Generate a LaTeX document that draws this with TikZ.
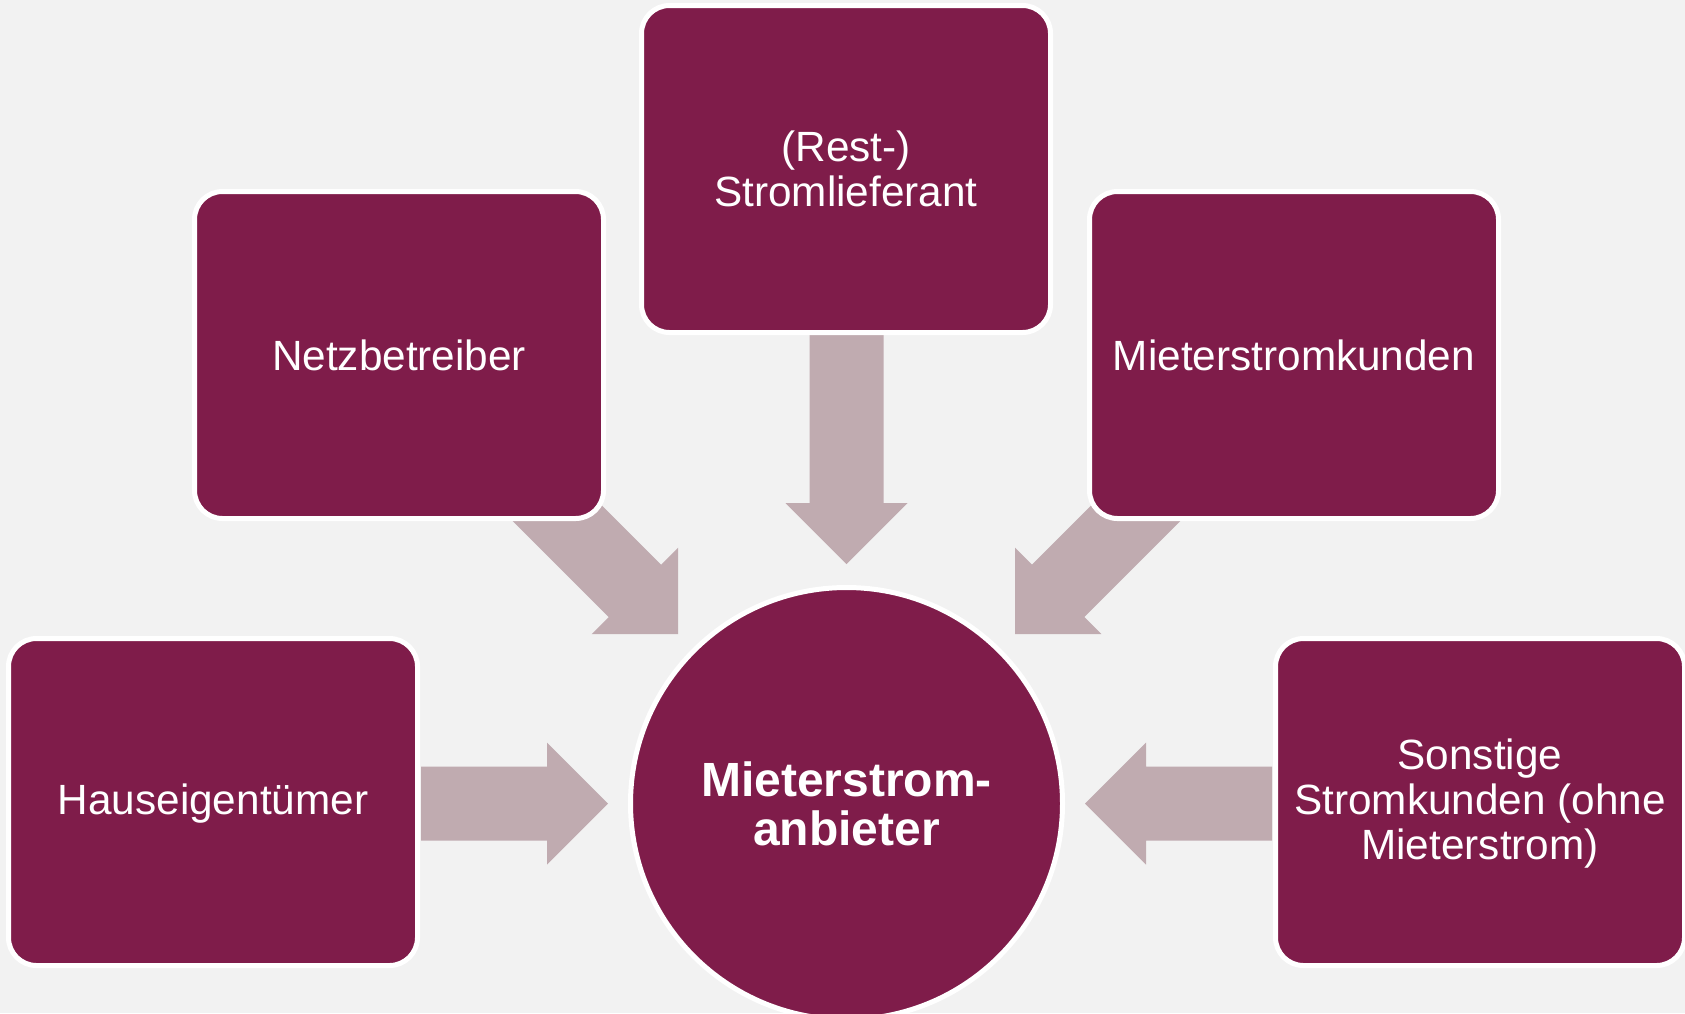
\documentclass[tikz,border=0pt]{standalone}
\usepackage{fontspec}
\setmainfont{Liberation Sans}
\definecolor{bgc}{HTML}{F2F2F2}
\definecolor{plum}{HTML}{7F1C4A}
\definecolor{arrc}{HTML}{C0ABB0}
\newcommand\capstrut{\rule[-0.084em]{0pt}{0.884em}}
\begin{document}
\begin{tikzpicture}[x=1pt,y=-1pt,
  box/.style={rectangle, rounded corners=28pt, fill=plum, draw=white, line width=5pt,
    minimum width=409pt, minimum height=327pt, inner sep=0pt, text=white, align=center,
    font=\fontsize{42.3}{45}\selectfont},
  hub/.style={circle, fill=plum, draw=white, line width=5pt, minimum size=432pt,
    inner sep=0pt, text=white, align=center, font=\fontsize{48}{49}\selectfont\bfseries},
  barrow/.pic={\fill[arrc] (0,0) -- (-61,61) -- (-61,37) -- (-#1,37) -- (-#1,-37)
    -- (-61,-37) -- (-61,-61) -- cycle;}
]
\useasboundingbox (0,0) rectangle (1685,1013);
\clip (0,0) rectangle (1685,1013);
\fill[bgc] (0,0) rectangle (1685,1013);

% block arrows (tips)
\coordinate (tipL) at (608,803.5);
\coordinate (tipR) at (1085,803.5);
\coordinate (tipT) at (846.5,564);
\coordinate (tipNW) at (678,634);
\coordinate (tipNE) at (1015,634);
\pic[rotate=0] at (tipL) {barrow=187};
\pic[rotate=180] at (tipR) {barrow=187};
\pic[rotate=-90] at (tipT) {barrow=240};
\pic[rotate=-45] at (tipNW) {barrow=215};
\pic[rotate=-135] at (tipNE) {barrow=215};

% boxes
\node[box] (haus) at (213,802) {\capstrut Hauseigentümer};
\node[box] (netz) at (399,355) {\capstrut Netzbetreiber};
\node[box] (rest) at (846,169) {\capstrut(Rest-)\\\capstrut Stromlieferant};
\node[box] (mieter) at (1294,355) {\capstrut Mieterstromkunden};
\node[box] (sonst) at (1480,802) {\capstrut Sonstige\\\capstrut Stromkunden (ohne\\\capstrut Mieterstrom)};

% hub
\node[hub] (anb) at (846.5,803.5) {\capstrut Mieterstrom-\\\capstrut anbieter};
\end{tikzpicture}
\end{document}
